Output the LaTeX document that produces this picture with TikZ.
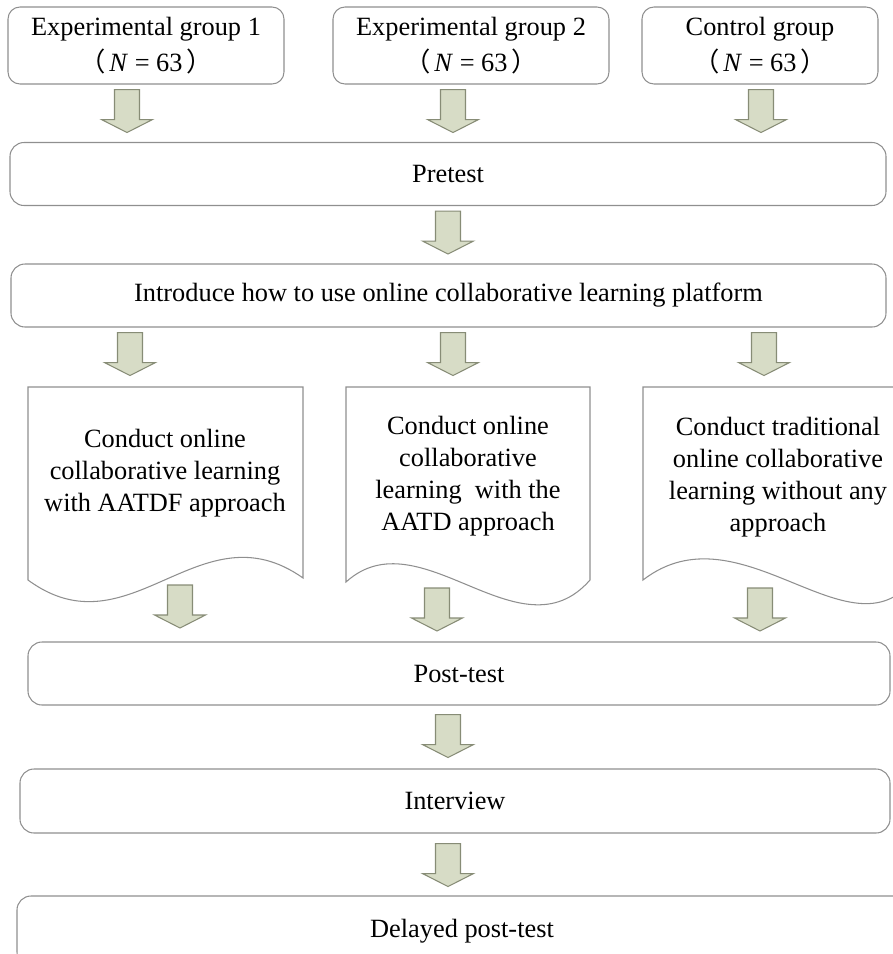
\documentclass[tikz,border=0pt]{standalone}
\usepackage{fontspec}
\setmainfont{Liberation Serif}
\newfontfamily\cjk{Noto Sans CJK SC}
\usepackage{tikz}
\usetikzlibrary{calc}
\newlength\px
\setlength\px{0.02cm}
\definecolor{boxline}{HTML}{8F8F8F}
\definecolor{arrowfill}{HTML}{D7DCC6}
\definecolor{arrowline}{HTML}{878C76}
% block arrow, 43px long, hanging below the given point
\newcommand\blkarrow[1]{%
  \filldraw[blkarrow] (#1) ++(-12.5,0) -- ++(25,0) -- ++(0,30) -- ++(13,0)
    -- ++(-25.5,13) -- ++(-25.5,-13) -- ++(13,0) -- cycle;}
\newcommand\grp[1]{#1\\{\cjk （}\hspace{0.15em}\textit{N} = 63\hspace{0.15em}{\cjk ）}}

\begin{document}
\begin{tikzpicture}[x=1\px,y=-1\px,
  every node/.style={font=\fontsize{15}{18.2}\selectfont},
  box/.style n args={2}{draw=boxline,line width=0.6pt,rectangle,rounded corners=12\px,
    minimum width=#1\px,minimum height=#2\px,inner sep=0pt,align=center},
  docline/.style={draw=boxline,line width=0.6pt},
  blkarrow/.style={fill=arrowfill,draw=arrowline,line width=0.6pt,line join=miter}]
\useasboundingbox (0,0) rectangle (893,954);
% groups
\node[box={276}{77},font=\fontsize{15}{20.5}\selectfont] (g1) at (146,45.5) {\grp{Experimental group 1}};
\node[box={276}{77},font=\fontsize{15}{20.5}\selectfont] (g2) at (471,45.5) {\grp{Experimental group 2}};
\node[box={236}{77},font=\fontsize{15}{20.5}\selectfont] (g3) at (760,45.5) {\grp{Control group}};
% common steps
\node[box={876}{63},rounded corners=14\px] (pre) at (448,174) {Pretest};
\node[box={875}{63},rounded corners=14\px] (intro) at (448.5,295.5) {Introduce how to use online collaborative learning platform};
% treatments
\draw[docline] (28,387) -- (303,387) -- (303,578)
   .. controls (200,505) and (130,655) .. (28,580) -- cycle;
\draw[docline] (346,387) -- (590,387) -- (590,580)
   .. controls (520,660) and (420,515) .. (346,582) -- cycle;
\draw[docline] (643,387) -- (913,387) -- (913,580)
   .. controls (850,660) and (740,505) .. (643,580) -- cycle;
\node[align=center] (d1) at (165,473) {Conduct online\\collaborative learning\\with AATDF approach};
\node[align=center] (d2) at (468,476) {Conduct online\\collaborative\\learning\ \ with the\\AATD approach};
\node[align=center] (d3) at (778,477) {Conduct traditional\\online collaborative\\learning without any\\approach};
\coordinate (d1b) at (165,580);
\coordinate (d2b) at (468,583);
\coordinate (d3b) at (778,583);
% after treatment
\node[box={862}{63},rounded corners=14\px] (post) at (459,673.5) {Post-test};
\node[box={870}{64},rounded corners=14\px] (inter) at (455,801) {Interview};
\node[box={890}{70},rounded corners=14\px] (delay) at (462,931) {Delayed post-test};
% arrows
\foreach \n/\x in {g1/127,g2/453,g3/761} {
   \blkarrow{$(\n.south -| \x,0)+(0,5)$}
}
\blkarrow{$(pre.south -| 448,0)+(0,5)$}
\foreach \x in {130,453,764} {
   \blkarrow{$(intro.south -| \x,0)+(0,5)$}
}
\foreach \n/\x in {d1b/180,d2b/437,d3b/760} {
   \blkarrow{$(\n -| \x,0)+(0,5)$}
}
\blkarrow{$(post.south -| 448,0)+(0,9)$}
\blkarrow{$(inter.south -| 448,0)+(0,10)$}
\end{tikzpicture}
\end{document}
